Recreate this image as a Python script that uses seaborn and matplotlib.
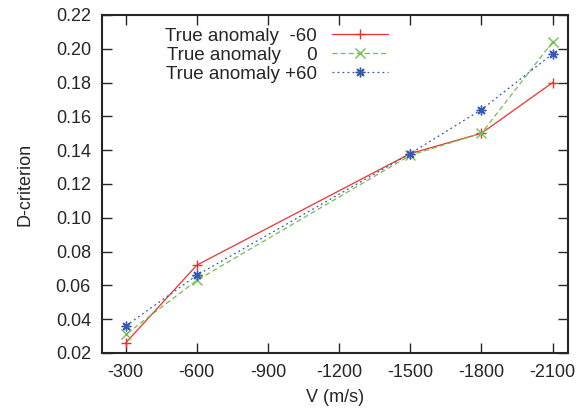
import pandas as pd
import matplotlib
matplotlib.use("Agg")
import matplotlib.pyplot as plt
import seaborn as sns

# data
velocity = [-300, -600, -1500, -1800, -2100]
d_minus60 = [0.026, 0.072, 0.138, 0.150, 0.180]
d_zero = [0.031, 0.063, 0.137, 0.150, 0.204]
d_plus60 = [0.036, 0.066, 0.138, 0.164, 0.197]
labels = ["True anomaly  -60", "True anomaly     0", "True anomaly +60"]
xticks = [-300, -600, -900, -1200, -1500, -1800, -2100]
yticks = [0.02, 0.04, 0.06, 0.08, 0.10, 0.12, 0.14, 0.16, 0.18, 0.20, 0.22]

sns.set_style("ticks")
plt.rcParams["font.family"] = ["Liberation Sans", "DejaVu Sans"]
plt.rcParams["font.size"] = 13

fig = plt.figure(figsize=(5.78, 4.13), dpi=100)
ax = fig.add_axes([0.1765, 0.1453, 0.8062, 0.8184])

styles = [
    (d_minus60, "#f03030", "-", "+", 7),
    (d_zero, "#70c050", (0, (4, 2.5)), "x", 6.5),
    (d_plus60, "#3858b8", (0, (1.5, 2.5)), (8, 2, 0), 7),
]
for lab, (vals, col, ls, mk, ms) in zip(labels, styles):
    df = pd.DataFrame({"V": velocity, "D": vals})
    sns.lineplot(data=df, x="V", y="D", ax=ax, color=col, linestyle=ls,
                 marker=mk, markersize=ms, markeredgewidth=1.0,
                 markeredgecolor=col, linewidth=0.9, label=lab)

ax.set_xlim(-200, -2165)
ax.set_ylim(0.02, 0.22)
ax.set_xticks(xticks)
ax.set_xticklabels([str(t) for t in xticks])
ax.set_yticks(yticks)
ax.set_yticklabels([f"{t:.2f}" for t in yticks])
ax.tick_params(direction="in", length=7, width=1.0, top=True, right=True,
               labelsize=13, pad=8)
for s in ax.spines.values():
    s.set_linewidth(1.5)
    s.set_visible(True)

ax.set_xlabel("V (m/s)", fontsize=13, labelpad=6)
ax.set_ylabel("D-criterion", fontsize=13, labelpad=16)

ax.legend(loc="upper left", bbox_to_anchor=(0.12, 0.985), frameon=False,
          markerfirst=False, handlelength=3.0, handletextpad=0.8,
          labelspacing=0.1, fontsize=13.5, borderaxespad=0)

fig.savefig("out.png", dpi=100)
